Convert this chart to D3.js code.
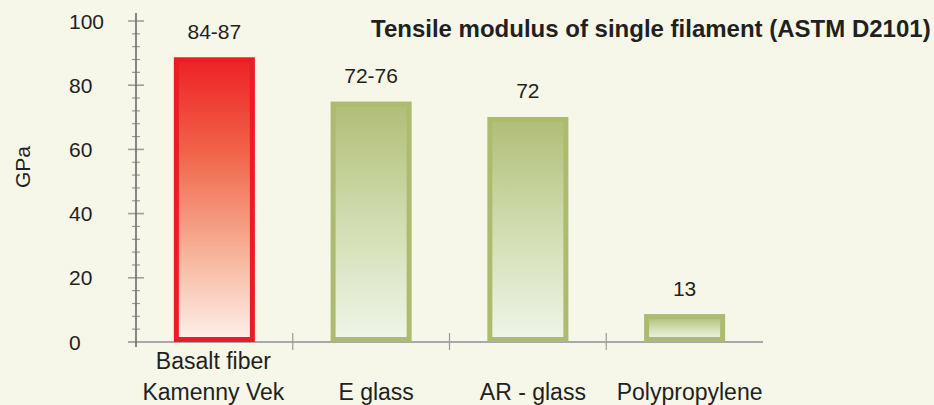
<!DOCTYPE html>
<html>
<head>
<meta charset="utf-8">
<script src="https://cdn.jsdelivr.net/npm/d3@7/dist/d3.min.js"></script>
<style>
  html, body { margin: 0; padding: 0; background: #f6f7e9; }
  svg { display: block; }
  text { font-family: "Liberation Sans", Arial, Helvetica, sans-serif; fill: #231f20; }
</style>
</head>
<body>
<svg id="chart" width="934" height="405"></svg>
<script>
// ---- data ----
const categories = [["Basalt fiber", "Kamenny Vek"], ["E glass"], ["AR - glass"], ["Polypropylene"]];
const values = [88.7, 74.9, 70.1, 8.7];
const valueLabels = ["84-87", "72-76", "72", "13"];
const highlight = [true, false, false, false];
const yTicks = [0, 20, 40, 60, 80, 100];
const title = "Tensile modulus of single filament (ASTM D2101)";
const yTitle = "GPa";

// ---- layout ----
const svg = d3.select("#chart");
const W = 934, H = 405;
svg.append("rect").attr("width", W).attr("height", H).attr("fill", "#f6f7e9");

const x0 = 136, x1 = 763, yBase = 342, yTop = 21;
const keys = categories.map((c, i) => "c" + i);
const x = d3.scaleBand().domain(keys).range([x0, x1]).paddingInner(0).paddingOuter(0);
const y = d3.scaleLinear().domain([0, 100]).range([yBase, yTop]);

// gradients
const defs = svg.append("defs");
const redG = defs.append("linearGradient").attr("id", "gRed").attr("x1", 0).attr("y1", 0).attr("x2", 0).attr("y2", 1);
[[0, "#ee2127"], [0.33, "#f06448"], [0.68, "#f7b096"], [1, "#fdf0ea"]].forEach(s =>
  redG.append("stop").attr("offset", s[0]).attr("stop-color", s[1]));
const greenG = defs.append("linearGradient").attr("id", "gGreen").attr("x1", 0).attr("y1", 0).attr("x2", 0).attr("y2", 1);
[[0, "#b0be76"], [0.5, "#d1ddb0"], [1, "#eff5e8"]].forEach(s =>
  greenG.append("stop").attr("offset", s[0]).attr("stop-color", s[1]));

// y axis: major and minor ticks
const g = svg.append("g");
const minor = d3.range(0, 101, 4).filter(v => v % 20 !== 0);
g.selectAll("line.minor").data(minor).join("line")
  .attr("x1", x0 - 4).attr("x2", x0 + 4)
  .attr("y1", d => y(d)).attr("y2", d => y(d))
  .attr("stroke", "#9a9a9a").attr("stroke-width", 1.2);
g.selectAll("line.major").data(yTicks).join("line")
  .attr("x1", x0 - 8).attr("x2", x0 + 8)
  .attr("y1", d => y(d)).attr("y2", d => y(d))
  .attr("stroke", "#a0a0a0").attr("stroke-width", 1.6);
g.selectAll("text.ytick").data(yTicks).join("text")
  .attr("x", 69).attr("y", d => y(d))
  .attr("dominant-baseline", "central")
  .attr("font-size", 21)
  .text(d => d);

// x axis line and category separators
g.append("line").attr("x1", x0 - 8).attr("x2", x1).attr("y1", yBase).attr("y2", yBase)
  .attr("stroke", "#a8a8a8").attr("stroke-width", 1.8);
g.selectAll("line.sep").data(keys.slice(1)).join("line")
  .attr("x1", d => x(d)).attr("x2", d => x(d))
  .attr("y1", yBase - 9).attr("y2", yBase + 8)
  .attr("stroke", "#9a9a9a").attr("stroke-width", 1.2);
g.append("line").attr("x1", x0).attr("x2", x0).attr("y1", y(100) - 8).attr("y2", yBase + 5)
  .attr("stroke", "#6a6a6a").attr("stroke-width", 1.6);

// bars
const bw = x.bandwidth() * 0.517;
const sw = 5;
const bars = svg.append("g");
values.forEach((v, i) => {
  const cx = x(keys[i]) + x.bandwidth() / 2;
  bars.append("rect")
    .attr("x", cx - bw / 2 + sw / 2)
    .attr("y", y(v) + sw / 2)
    .attr("width", bw - sw)
    .attr("height", y(0) - y(v) - sw)
    .attr("fill", highlight[i] ? "url(#gRed)" : "url(#gGreen)")
    .attr("stroke", highlight[i] ? "#ed1c24" : "#adbb6f")
    .attr("stroke-width", sw);
  svg.append("text")
    .attr("x", cx).attr("y", y(v) - 26)
    .attr("text-anchor", "middle").attr("dominant-baseline", "central")
    .attr("font-size", 21)
    .text(valueLabels[i]);
  const lines = categories[i];
  lines.forEach((ln, j) => {
    svg.append("text")
      .attr("x", cx + (i === 0 ? -1 : 5))
      .attr("y", 400 - (lines.length - 1 - j) * 31)
      .attr("text-anchor", "middle")
      .attr("font-size", 23)
      .text(ln);
  });
});

// titles
svg.append("text").attr("x", 371).attr("y", 37)
  .attr("font-size", 24).attr("font-weight", "bold")
  .text(title);
svg.append("text")
  .attr("transform", `translate(22,167) rotate(-90)`)
  .attr("text-anchor", "middle").attr("dominant-baseline", "central")
  .attr("font-size", 21)
  .text(yTitle);
</script>
</body>
</html>
